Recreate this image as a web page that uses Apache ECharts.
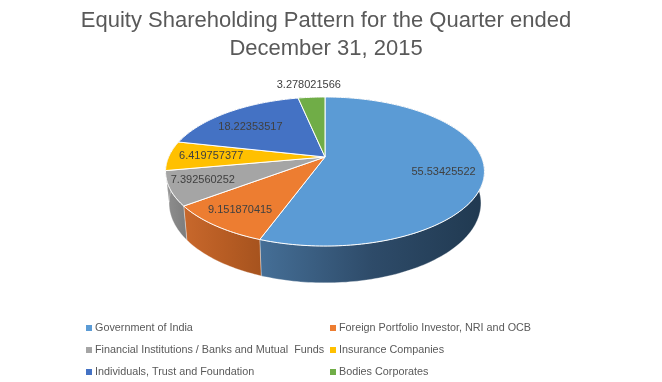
<!DOCTYPE html>
<html><head><meta charset="utf-8">
<style>html,body{margin:0;padding:0;background:#fff}#c{width:662px;height:382px}</style>
<script src="https://cdn.jsdelivr.net/npm/echarts@6/dist/echarts.min.js"></script>
</head><body><div id="c"></div>
<script>
const titleText = "Equity Shareholding Pattern for the Quarter ended\nDecember 31, 2015";
const categories = ["Government of India","Foreign Portfolio Investor, NRI and OCB","Financial Institutions / Banks and Mutual  Funds","Insurance Companies","Individuals, Trust and Foundation","Bodies Corporates"];
const values = [55.53425522,9.151870415,7.392560252,6.419757377,18.22353517,3.278021566];
const valueLabels = ["55.53425522","9.151870415","7.392560252","6.419757377","18.22353517","3.278021566"];
const colors = ["#5b9bd5","#ed7d31","#a5a5a5","#ffc000","#4472c4","#70ad47"];
const sideStops = [["#456f97","#2e4b69","#203950"],["#c8682c","#b85d24","#a6531e"],["#8f8f8f","#868686","#7c7c7c"],["#8f8f8f","#8f8f8f","#8f8f8f"],["#2f5597","#2f5597","#2f5597"],["#4e7a32","#4e7a32","#4e7a32"]];
const labelRadii = [0.75,0.8,0.8,0.73,0.75,1.25];
const labelNudgeY = [5,0,-2,0,5,0];
const legendCols = [86,330];
const legendRows = [321.5,343.5,365.5];

// perspective disc
const P = {cx:325, top:{y0:157, sx:1, sy:1}, bot:{y0:187.6, sx:0.978, sy:1.07}, a:156.4, b:71.7, k:-0.1946};
function pt(phi, r, face){
  const X = Math.sin(phi)*r, Y = -Math.cos(phi)*r, w = 1 + P.k*Y;
  return [P.cx + face.sx*P.a*X/w, face.y0 + face.sy*P.b*Y/w];
}
const total = values.reduce((a,b)=>a+b,0);
function angles(i){
  let s=0; for(let j=0;j<i;j++) s+=values[j];
  return [s/total*2*Math.PI, (s+values[i])/total*2*Math.PI];
}
function rim(a0,a1,face){
  const n=Math.max(4,Math.ceil((a1-a0)/0.02)), out=[];
  for(let t=0;t<=n;t++) out.push(pt(a0+(a1-a0)*t/n,1,face));
  return out;
}
const series=[];
categories.forEach((name,i)=>{
  series.push({
    type:'custom', name:'side'+i, coordinateSystem:'none', z:1, silent:true, data:[[values[i]]],
    itemStyle:{color:colors[i]},
    renderItem(){
      const [a0,a1]=angles(i);
      const poly=rim(a0,a1,P.top).concat(rim(a0,a1,P.bot).reverse());
      const st=sideStops[i];
      return {type:'polygon',shape:{points:poly},style:{
        fill:{type:'linear',x:0,y:0,x2:1,y2:0,colorStops:[{offset:0,color:st[0]},{offset:0.5,color:st[1]},{offset:1,color:st[2]}]},
        stroke:'rgba(255,255,255,0.55)',lineWidth:0.6}};
    }
  });
});
categories.forEach((name,i)=>{
  series.push({
    type:'custom', name, coordinateSystem:'none', z:2, silent:true, data:[[values[i]]],
    itemStyle:{color:colors[i]},
    renderItem(){
      const [a0,a1]=angles(i);
      const poly=[pt(0,0,P.top)].concat(rim(a0,a1,P.top));
      const mid=(a0+a1)/2, lp=pt(mid,labelRadii[i],P.top);
      return {type:'group',children:[
        {type:'polygon',shape:{points:poly},style:{fill:colors[i],stroke:'#ffffff',lineWidth:1}},
        {type:'text',z2:10,style:{text:valueLabels[i],x:lp[0],y:lp[1]+labelNudgeY[i],align:'center',verticalAlign:'middle',fill:'#404040',font:'11px "Liberation Sans"'}}
      ]};
    }
  });
});
const legends=categories.map((name,i)=>({
  left:legendCols[i%2],top:legendRows[Math.floor(i/2)],padding:0,
  itemWidth:6,itemHeight:6,itemGap:0,icon:'rect',selectedMode:false,data:[name],
  textStyle:{color:'#595959',fontFamily:'Liberation Sans',fontSize:10.8,padding:[0,0,0,-2],lineHeight:13}
}));
const chart=echarts.init(document.getElementById('c'),null,{renderer:'canvas'});
chart.setOption({
  animation:false,backgroundColor:'#ffffff',
  title:{text:titleText,left:326,textAlign:'center',top:0,padding:[7,0,0,0],textStyle:{color:'#595959',fontFamily:'Liberation Sans',fontWeight:'normal',fontSize:22,lineHeight:28}},
  legend:legends,
  series
});
</script></body></html>
